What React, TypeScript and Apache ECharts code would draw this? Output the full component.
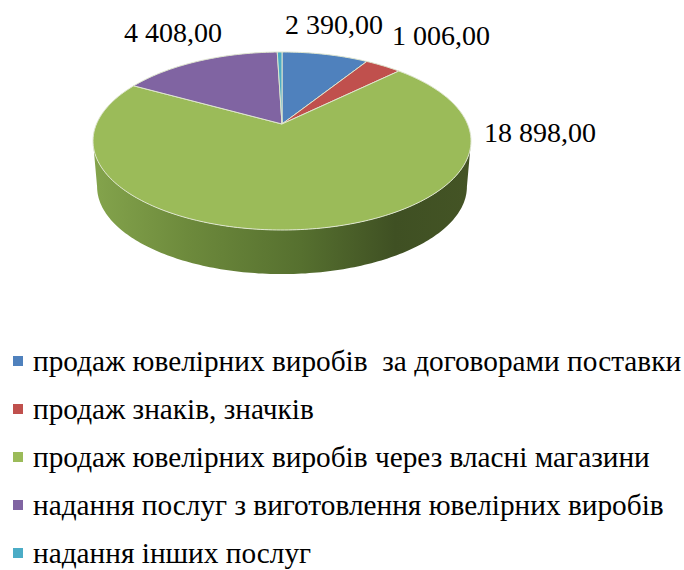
import React, { useEffect, useRef } from "react";
import * as echarts from "echarts";

const categories = [
  "продаж ювелірних виробів  за договорами поставки",
  "продаж знаків, значків",
  "продаж ювелірних виробів через власні магазини",
  "надання послуг з виготовлення ювелірних виробів",
  "надання інших послуг",
];
const values = [2390, 1006, 18898, 4408, 130];
const showLabel = [true, true, true, true, false];
const colors = ["#4f81bd", "#c0504d", "#9bbb59", "#8064a2", "#4bacc6"];
const labelCenters = [
  [334, 24],
  [441, 35],
  [540, 132],
  [173, 32],
  [0, 0],
];

const FONT = '"Liberation Serif", serif';
const total = values.reduce((a, b) => a + b, 0);
const CX = 282;
const TOP = { y0: 124, a: 185.5, b: 85.75 };
const BOTTOM = { y0: 170, a: 181.5, b: 84.2 };
const P = 0.191;
const EDGE_ANGLE = 101;

function project(deg: number, g: { y0: number; a: number; b: number }) {
  const t = (deg * Math.PI) / 180;
  const w = 1 + P * Math.cos(t);
  return [CX + (g.a * Math.sin(t)) / w, g.y0 - (g.b * Math.cos(t)) / w];
}
function arc(from: number, to: number, g: { y0: number; a: number; b: number }) {
  const n = Math.max(2, Math.ceil(Math.abs(to - from)));
  const pts: number[][] = [];
  for (let i = 0; i <= n; i++) pts.push(project(from + ((to - from) * i) / n, g));
  return pts;
}
function formatValue(v: number) {
  return String(v).replace(/\B(?=(\d{3})+$)/g, " ") + ",00";
}
function sliceRange(index: number) {
  let start = 0;
  for (let i = 0; i < index; i++) start += values[i];
  return [(start / total) * 360, ((start + values[index]) / total) * 360];
}

const sideGradient = new echarts.graphic.LinearGradient(
  93,
  0,
  471,
  0,
  [
    { offset: 0, color: "#84a44c" },
    { offset: 0.25, color: "#6d8a3c" },
    { offset: 0.55, color: "#56702f" },
    { offset: 0.8, color: "#3f5023" },
    { offset: 1, color: "#445425" },
  ],
  true
);

function sideItem(from: number, to: number) {
  const a = Math.max(from, EDGE_ANGLE);
  const b = Math.min(to, 360 - EDGE_ANGLE);
  if (b <= a) return null;
  return {
    type: "polygon",
    silent: true,
    shape: { points: [...arc(a, b, TOP), ...arc(b, a, BOTTOM)] },
    style: { fill: sideGradient, stroke: "none" },
  };
}

export default function App() {
  const ref = useRef<HTMLDivElement>(null);
  useEffect(() => {
    const chart = echarts.init(ref.current!, null, { renderer: "svg" });
    const sides = {
      type: "custom",
      coordinateSystem: "none",
      silent: true,
      z: 1,
      data: values,
      renderItem: (p: any) => {
        const [a, b] = sliceRange(p.dataIndex);
        return sideItem(a, b) || { type: "group", children: [] };
      },
    };
    const slices = categories.map((name, i) => ({
      name,
      type: "custom",
      coordinateSystem: "none",
      silent: true,
      z: 2,
      itemStyle: { color: colors[i] },
      data: [values[i]],
      renderItem: () => {
        const [a, b] = sliceRange(i);
        const children: any[] = [
          {
            type: "polygon",
            silent: true,
            shape: { points: [[CX, TOP.y0], ...arc(a, b, TOP)] },
            style: { fill: colors[i], stroke: "#dfe6cf", lineWidth: 1, lineJoin: "round" },
          },
        ];
        if (showLabel[i]) {
          children.push({
            type: "text",
            silent: true,
            x: labelCenters[i][0],
            y: labelCenters[i][1],
            style: {
              text: formatValue(values[i]),
              font: `28px ${FONT}`,
              fill: "#000000",
              align: "center",
              verticalAlign: "middle",
            },
          });
        }
        return { type: "group", children };
      },
    }));
    chart.setOption({
      animation: false,
      backgroundColor: "#ffffff",
      legend: {
        show: true,
        orient: "vertical",
        left: 13,
        top: 344.5,
        itemWidth: 10,
        itemHeight: 10,
        itemGap: 15,
        padding: 0,
        icon: "rect",
        selectedMode: false,
        data: categories,
        textStyle: {
          fontFamily: "Liberation Serif",
          fontSize: 29.3,
          color: "#000000",
          padding: [17, 0, 0, 5],
          lineHeight: 16,
        },
      },
      series: [sides, ...slices],
    });
    return () => chart.dispose();
  }, []);
  return (
    <div
      ref={ref}
      style={{ position: "absolute", left: 0, top: 0, width: 684, height: 570 }}
    />
  );
}
